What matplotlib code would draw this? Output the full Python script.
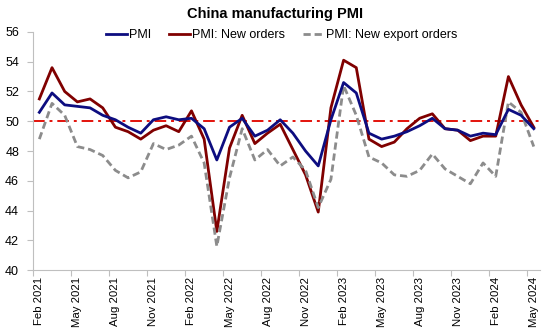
import numpy as np
import matplotlib
matplotlib.use("Agg")
import matplotlib.pyplot as plt

plt.rcParams['font.family'] = ['Liberation Sans', 'DejaVu Sans']

# monthly readings, Feb 2021 .. May 2024
months = ["Feb 2021", "Mar 2021", "Apr 2021", "May 2021", "Jun 2021", "Jul 2021",
          "Aug 2021", "Sep 2021", "Oct 2021", "Nov 2021", "Dec 2021", "Jan 2022",
          "Feb 2022", "Mar 2022", "Apr 2022", "May 2022", "Jun 2022", "Jul 2022",
          "Aug 2022", "Sep 2022", "Oct 2022", "Nov 2022", "Dec 2022", "Jan 2023",
          "Feb 2023", "Mar 2023", "Apr 2023", "May 2023", "Jun 2023", "Jul 2023",
          "Aug 2023", "Sep 2023", "Oct 2023", "Nov 2023", "Dec 2023", "Jan 2024",
          "Feb 2024", "Mar 2024", "Apr 2024", "May 2024"]

pmi = [50.6, 51.9, 51.1, 51.0, 50.9, 50.4, 50.1, 49.6, 49.2, 50.1, 50.3, 50.1,
       50.2, 49.5, 47.4, 49.6, 50.2, 49.0, 49.4, 50.1, 49.2, 48.0, 47.0, 50.1,
       52.6, 51.9, 49.2, 48.8, 49.0, 49.3, 49.7, 50.2, 49.5, 49.4, 49.0, 49.2,
       49.1, 50.8, 50.4, 49.5]

new_orders = [51.5, 53.6, 52.0, 51.3, 51.5, 50.9, 49.6, 49.3, 48.8, 49.4, 49.7, 49.3,
              50.7, 48.8, 42.6, 48.2, 50.4, 48.5, 49.2, 49.8, 48.1, 46.4, 43.9, 50.9,
              54.1, 53.6, 48.8, 48.3, 48.6, 49.5, 50.2, 50.5, 49.5, 49.4, 48.7, 49.0,
              49.0, 53.0, 51.1, 49.6]

export_orders = [48.8, 51.2, 50.4, 48.3, 48.1, 47.7, 46.7, 46.2, 46.6, 48.5, 48.1, 48.4,
                 49.0, 47.2, 41.6, 46.2, 49.5, 47.4, 48.1, 47.0, 47.6, 46.7, 44.2, 46.1,
                 52.4, 50.4, 47.6, 47.2, 46.4, 46.3, 46.7, 47.8, 46.8, 46.3, 45.8, 47.2,
                 46.3, 51.3, 50.6, 48.3]

threshold = 50

x = np.arange(len(months))

fig = plt.figure(figsize=(5.5, 3.36), dpi=100)
ax = fig.add_axes([0.06, 0.196, 0.922, 0.709])

ax.axhline(threshold, color='#e3120b', lw=1.4, ls=(0, (6, 2.5, 1.5, 2.5)), zorder=1)
ax.plot(x, pmi, color='#0d0d80', lw=2.0, label='PMI', zorder=3)
ax.plot(x, new_orders, color='#800000', lw=2.0, label='PMI: New orders', zorder=2)
ax.plot(x, export_orders, color='#8c8c8c', lw=2.0, ls=(0, (2.6, 1.4)),
        label='PMI: New export orders', zorder=2)

ax.set_xlim(-0.5, len(months) - 0.5)
ax.set_ylim(40, 56)
ax.set_yticks(np.arange(40, 57, 2))

# labels sit on the month, tick marks between months
ax.set_xticks(x[::3])
ax.set_xticklabels(months[::3], rotation=90, fontsize=8.2)
ax.set_xticks(x[::3] - 0.5, minor=True)
ax.tick_params(axis='x', which='major', length=0, pad=5)
ax.tick_params(axis='x', which='minor', length=4, color='#bfbfbf', width=0.8)
ax.tick_params(axis='y', length=4, color='#bfbfbf', width=0.8, labelsize=9, pad=6)

for side in ['top', 'right']:
    ax.spines[side].set_visible(False)
for side in ['left', 'bottom']:
    ax.spines[side].set_color('#bfbfbf')
    ax.spines[side].set_linewidth(0.8)

fig.suptitle('China manufacturing PMI', x=0.5, y=0.98, fontsize=10.5, fontweight='bold')
fig.legend(loc='center', bbox_to_anchor=(0.512, 0.896), ncol=3, frameon=False,
           fontsize=9, handlelength=1.7, handletextpad=0.15, columnspacing=1.4,
           borderaxespad=0)

fig.savefig('out.png', dpi=100)
